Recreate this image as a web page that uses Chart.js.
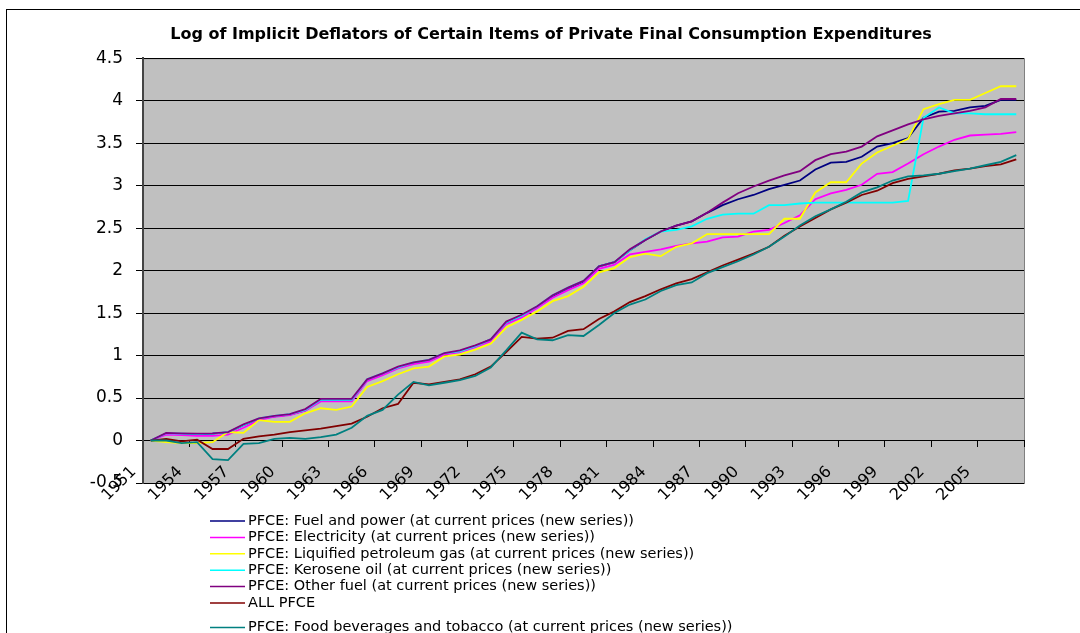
<!DOCTYPE html>
<html>
<head>
<meta charset="utf-8">
<script src="https://cdn.jsdelivr.net/npm/chart.js@4"></script>
<style>body{margin:0;background:#fff}</style>
</head>
<body>
<canvas id="chart" width="1080" height="633"></canvas>
<script>
const years = ['1951','1952','1953','1954','1955','1956','1957','1958','1959','1960',
  '1961','1962','1963','1964','1965','1966','1967','1968','1969','1970',
  '1971','1972','1973','1974','1975','1976','1977','1978','1979','1980',
  '1981','1982','1983','1984','1985','1986','1987','1988','1989','1990',
  '1991','1992','1993','1994','1995','1996','1997','1998','1999','2000',
  '2001','2002','2003','2004','2005','2006','2007'];

const fuelPower = [0, 0.08, 0.075, 0.07, 0.08, 0.095, 0.18, 0.255, 0.285, 0.305,
  0.355, 0.47, 0.47, 0.47, 0.71, 0.78, 0.86, 0.91, 0.94, 1.02,
  1.05, 1.11, 1.19, 1.38, 1.47, 1.57, 1.70, 1.79, 1.87, 2.05,
  2.10, 2.24, 2.36, 2.46, 2.53, 2.58, 2.68, 2.77, 2.84, 2.89,
  2.96, 3.01, 3.06, 3.19, 3.27, 3.28, 3.34, 3.46, 3.50, 3.56,
  3.80, 3.87, 3.88, 3.92, 3.94, 4.01, 4.01];

const electricity = [0, 0.07, 0.065, 0.055, 0.055, 0.07, 0.15, 0.24, 0.28, 0.30,
  0.35, 0.46, 0.46, 0.46, 0.70, 0.77, 0.85, 0.90, 0.93, 1.01,
  1.04, 1.10, 1.17, 1.37, 1.45, 1.56, 1.68, 1.77, 1.85, 2.02,
  2.07, 2.19, 2.22, 2.25, 2.29, 2.32, 2.34, 2.39, 2.40, 2.46,
  2.48, 2.56, 2.65, 2.84, 2.91, 2.95, 3.01, 3.14, 3.16, 3.26,
  3.37, 3.46, 3.54, 3.59, 3.60, 3.61, 3.63];

const lpg = [0, -0.02, -0.03, -0.03, -0.02, 0.10, 0.09, 0.24, 0.22, 0.22,
  0.32, 0.38, 0.36, 0.40, 0.63, 0.70, 0.78, 0.85, 0.87, 0.99,
  1.01, 1.07, 1.14, 1.33, 1.42, 1.52, 1.64, 1.70, 1.81, 1.98,
  2.03, 2.16, 2.20, 2.17, 2.28, 2.32, 2.43, 2.43, 2.43, 2.43,
  2.43, 2.61, 2.61, 2.92, 3.04, 3.04, 3.26, 3.39, 3.47, 3.55,
  3.90, 3.96, 4.01, 4.01, 4.09, 4.17, 4.17];

const kerosene = [0, 0.085, 0.08, 0.075, 0.08, 0.10, 0.18, 0.26, 0.29, 0.31,
  0.36, 0.48, 0.48, 0.48, 0.72, 0.79, 0.86, 0.92, 0.95, 1.03,
  1.05, 1.11, 1.19, 1.39, 1.47, 1.58, 1.71, 1.80, 1.88, 2.05,
  2.10, 2.24, 2.37, 2.46, 2.48, 2.52, 2.61, 2.66, 2.67, 2.67,
  2.77, 2.77, 2.79, 2.80, 2.80, 2.80, 2.80, 2.80, 2.80, 2.82,
  3.80, 3.92, 3.85, 3.85, 3.84, 3.84, 3.84];

const otherFuel = [0, 0.09, 0.085, 0.08, 0.085, 0.10, 0.19, 0.26, 0.29, 0.31,
  0.37, 0.49, 0.49, 0.49, 0.72, 0.79, 0.87, 0.92, 0.95, 1.03,
  1.06, 1.12, 1.19, 1.40, 1.48, 1.58, 1.71, 1.80, 1.88, 2.05,
  2.10, 2.25, 2.36, 2.46, 2.53, 2.58, 2.68, 2.80, 2.91, 2.99,
  3.06, 3.12, 3.17, 3.30, 3.37, 3.40, 3.46, 3.58, 3.65, 3.72,
  3.78, 3.82, 3.85, 3.88, 3.92, 4.02, 4.02];

const allPfce = [0, 0.02, -0.01, 0.01, -0.10, -0.10, 0.02, 0.05, 0.07, 0.10,
  0.12, 0.14, 0.17, 0.20, 0.28, 0.38, 0.43, 0.68, 0.66, 0.69,
  0.72, 0.78, 0.87, 1.04, 1.22, 1.20, 1.21, 1.29, 1.31, 1.43,
  1.52, 1.63, 1.70, 1.78, 1.85, 1.90, 1.98, 2.06, 2.13, 2.20,
  2.28, 2.41, 2.52, 2.62, 2.72, 2.80, 2.89, 2.94, 3.03, 3.08,
  3.11, 3.14, 3.18, 3.20, 3.23, 3.25, 3.31];

const foodBev = [0, 0.00, -0.03, -0.02, -0.22, -0.23, -0.04, -0.03, 0.02, 0.03,
  0.02, 0.04, 0.07, 0.15, 0.29, 0.36, 0.54, 0.69, 0.65, 0.68,
  0.71, 0.76, 0.86, 1.06, 1.27, 1.19, 1.18, 1.24, 1.23, 1.36,
  1.50, 1.60, 1.66, 1.76, 1.83, 1.86, 1.97, 2.04, 2.11, 2.19,
  2.28, 2.40, 2.53, 2.64, 2.72, 2.81, 2.92, 2.98, 3.06, 3.11,
  3.12, 3.14, 3.17, 3.20, 3.24, 3.28, 3.36];

const seriesNames = [
  'PFCE: Fuel and power (at current prices (new series))',
  'PFCE: Electricity (at current prices (new series))',
  'PFCE: Liquified petroleum gas (at current prices (new series))',
  'PFCE: Kerosene oil (at current prices (new series))',
  'PFCE: Other fuel (at current prices (new series))',
  'ALL PFCE',
  'PFCE: Food beverages and tobacco (at current prices (new series))'
];
const seriesValues = [fuelPower, electricity, lpg, kerosene, otherFuel, allPfce, foodBev];
const seriesColors = ['#000080', '#ff00ff', '#ffff00', '#00ffff', '#800080', '#800000', '#008080'];

const FONT = 'DejaVu Sans';

// grey plot area, its border and the outer chart frame
const plotBackground = {
  id: 'plotBackground',
  beforeDraw(chart) {
    const {ctx, chartArea: a} = chart;
    ctx.save();
    ctx.strokeStyle = '#000';
    ctx.lineWidth = 1;
    ctx.strokeRect(6.5, 9.5, 1300, 1000);
    ctx.fillStyle = '#c0c0c0';
    ctx.fillRect(a.left, a.top, a.right - a.left, a.bottom - a.top);
    ctx.strokeStyle = '#808080';
    ctx.strokeRect(a.left + 0.5, a.top + 0.5, a.right - a.left, a.bottom - a.top);
    ctx.restore();
  }
};

// Excel-style legend: one series per row, under the plot (last row sits lower, cut by the edge)
const legendRows = [521, 537.4, 553.8, 570.2, 586.6, 603, 627.5];
const rowLegend = {
  id: 'rowLegend',
  afterDraw(chart) {
    const ctx = chart.ctx;
    ctx.save();
    ctx.font = '14.5px "' + FONT + '"';
    ctx.textBaseline = 'middle';
    ctx.textAlign = 'left';
    chart.data.datasets.forEach((ds, k) => {
      const y = legendRows[k];
      ctx.strokeStyle = ds.borderColor;
      ctx.lineWidth = 1.5;
      ctx.beginPath();
      ctx.moveTo(210, y);
      ctx.lineTo(245, y);
      ctx.stroke();
      ctx.fillStyle = '#000';
      ctx.fillText(ds.label, 248, y);
    });
    ctx.restore();
  }
};

new Chart(document.getElementById('chart'), {
  type: 'line',
  data: {
    labels: years,
    datasets: seriesValues.map((vals, k) => ({
      label: seriesNames[k],
      data: vals,
      borderColor: seriesColors[k],
      backgroundColor: seriesColors[k],
      borderWidth: 1.8,
      pointRadius: 0,
      tension: 0,
      order: seriesValues.length - k
    }))
  },
  options: {
    responsive: false,
    animation: false,
    layout: {padding: {left: 78, right: 56, top: 0, bottom: 150}},
    plugins: {
      legend: {display: false},
      tooltip: {enabled: false},
      title: {
        display: true,
        text: 'Log of Implicit Deflators of Certain Items of Private Final Consumption Expenditures',
        color: '#000',
        font: {family: FONT, size: 16, weight: 'bold'},
        padding: {top: 25, bottom: 14}
      }
    },
    scales: {
      x: {
        type: 'category',
        offset: true,
        position: {y: 0},
        grid: {
          offset: true,
          drawOnChartArea: false,
          tickLength: 6,
          tickColor: c => (c.index === undefined || c.index % 3 === 0) ? '#000' : 'rgba(0,0,0,0)'
        },
        border: {display: true, color: '#000', width: 1},
        ticks: {
          autoSkip: false,
          minRotation: 45,
          maxRotation: 45,
          padding: 16,
          labelOffset: -17,
          color: '#000',
          font: {family: FONT, size: 16},
          callback: function (val, i) { return i % 3 === 0 ? this.getLabelForValue(val) : ''; }
        }
      },
      y: {
        min: -0.5,
        max: 4.5,
        ticks: {
          stepSize: 0.5,
          padding: 13,
          color: '#000',
          font: {family: FONT, size: 17},
          callback: v => String(v)
        },
        grid: {color: '#000', lineWidth: 1, tickLength: 7, tickColor: '#000'},
        border: {display: true, color: '#444', width: 2},
        afterFit(s) { s.width = 65; }
      }
    }
  },
  plugins: [plotBackground, rowLegend]
});
</script>
</body>
</html>
